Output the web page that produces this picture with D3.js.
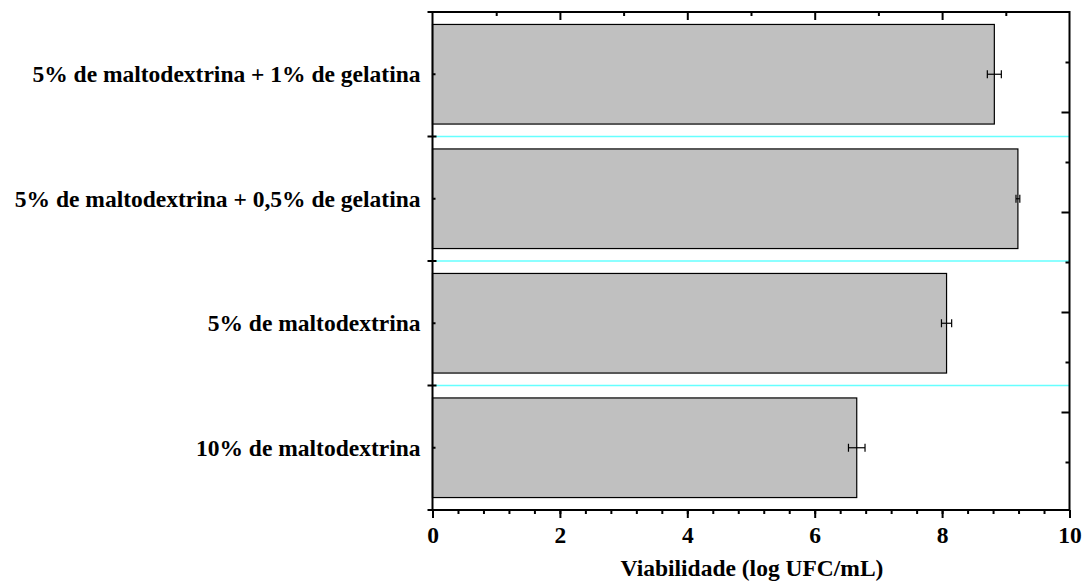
<!DOCTYPE html>
<html><head><meta charset="utf-8">
<script src="https://cdn.jsdelivr.net/npm/d3@7"></script>
<style>body{margin:0;background:#fff}svg{display:block}</style>
</head><body><svg id="c" width="1087" height="583"></svg>
<script>
const categories = ["5% de maltodextrina + 1% de gelatina","5% de maltodextrina + 0,5% de gelatina","5% de maltodextrina","10% de maltodextrina"];
const values = [8.82, 9.19, 8.07, 6.66];
const errors = [0.11, 0.03, 0.08, 0.13];
const xTicks = [0,2,4,6,8,10];
const xTitle = "Viabilidade (log UFC/mL)";

(function(){
const svg = d3.select("#c");
const L=432.5, R=1069.5, T=12, B=510;
const FS = "23.5px";
const FF = "'Liberation Serif', 'Times New Roman', Times, 'DejaVu Serif', serif";
const x = d3.scaleLinear().domain([0,10]).range([L,R]);
const y = d3.scaleBand().domain(categories).range([T,B]).paddingInner(0.2).paddingOuter(0.1);
const yr = d3.scaleLinear().domain([0,10]).range([T,T+500]);

const bounds = categories.slice(1).map(c => y(c) - y.step()*y.paddingInner()/2);
svg.selectAll("line.sep").data(bounds).join("line")
  .attr("x1",L).attr("x2",R).attr("y1",d=>d).attr("y2",d=>d)
  .attr("stroke","#66ffff").attr("stroke-width",1.5);

svg.selectAll("rect.bar").data(categories).join("rect")
  .attr("x",x(0)).attr("y",d=>y(d)).attr("height",y.bandwidth())
  .attr("width",(d,i)=>x(values[i])-x(0))
  .attr("fill","#c0c0c0").attr("stroke","#000").attr("stroke-width",1.2);

const eg = svg.append("g").attr("stroke","#000").attr("stroke-width",1.2);
categories.forEach((c,i)=>{
  const cy = y(c)+y.bandwidth()/2;
  const x1=x(values[i]-errors[i]), x2=x(values[i]+errors[i]);
  eg.append("line").attr("x1",x1).attr("x2",x2).attr("y1",cy).attr("y2",cy);
  eg.append("line").attr("x1",x1).attr("x2",x1).attr("y1",cy-4).attr("y2",cy+4);
  eg.append("line").attr("x1",x2).attr("x2",x2).attr("y1",cy-4).attr("y2",cy+4);
});

svg.append("rect").attr("x",L).attr("y",T).attr("width",R-L).attr("height",B-T)
  .attr("fill","none").attr("stroke","#000").attr("stroke-width",2);

const gBottom = svg.append("g").attr("transform",`translate(0,${B})`)
  .call(d3.axisBottom(x).tickValues(d3.range(0,10.01,0.4)).tickSize(4).tickFormat(""));
gBottom.append("g").call(d3.axisBottom(x).tickValues(xTicks).tickSize(8).tickPadding(8).tickFormat(d3.format("d")));
gBottom.selectAll(".domain").remove();
gBottom.selectAll("line").attr("stroke","#000").attr("stroke-width",2);

const gTop = svg.append("g").attr("transform",`translate(0,${T})`)
  .call(d3.axisBottom(x).tickValues(d3.range(1,10,2)).tickSize(4).tickFormat(""));
gTop.append("g").call(d3.axisBottom(x).tickValues([2,4,6,8]).tickSize(8).tickFormat(""));
gTop.selectAll(".domain").remove();
gTop.selectAll("line").attr("stroke","#000").attr("stroke-width",2);

const gLeft = svg.append("g");
[T, ...bounds, B].forEach(b=>{
  gLeft.append("line").attr("x1",L-5).attr("x2",L+4).attr("y1",b).attr("y2",b);
});
categories.forEach(c=>{
  const cy=y(c)+y.bandwidth()/2;
  gLeft.append("line").attr("x1",L).attr("x2",L+3).attr("y1",cy).attr("y2",cy);
});
gLeft.selectAll("line").attr("stroke","#000").attr("stroke-width",2);
svg.selectAll("text.cat").data(categories).join("text").attr("class","cat")
  .attr("x",L-12).attr("y",d=>y(d)+y.bandwidth()/2).attr("dy","0.35em")
  .attr("text-anchor","end").text(d=>d);

const gRight = svg.append("g").attr("transform",`translate(${R},0)`)
  .call(d3.axisLeft(yr).tickValues([1,3,5,7,9]).tickSize(4).tickFormat(""));
gRight.append("g").call(d3.axisLeft(yr).tickValues([2,4,6,8]).tickSize(8).tickFormat(""));
gRight.selectAll(".domain").remove();
gRight.selectAll("line").attr("stroke","#000").attr("stroke-width",2);

svg.append("text").attr("x",(L+R)/2+1).attr("y",576).attr("text-anchor","middle").text(xTitle);

svg.selectAll("text").attr("font-family",null).attr("font-size",null)
  .style("font-family",FF).style("font-size",FS).style("font-weight","bold").attr("fill","#000");
})();
</script></body></html>
